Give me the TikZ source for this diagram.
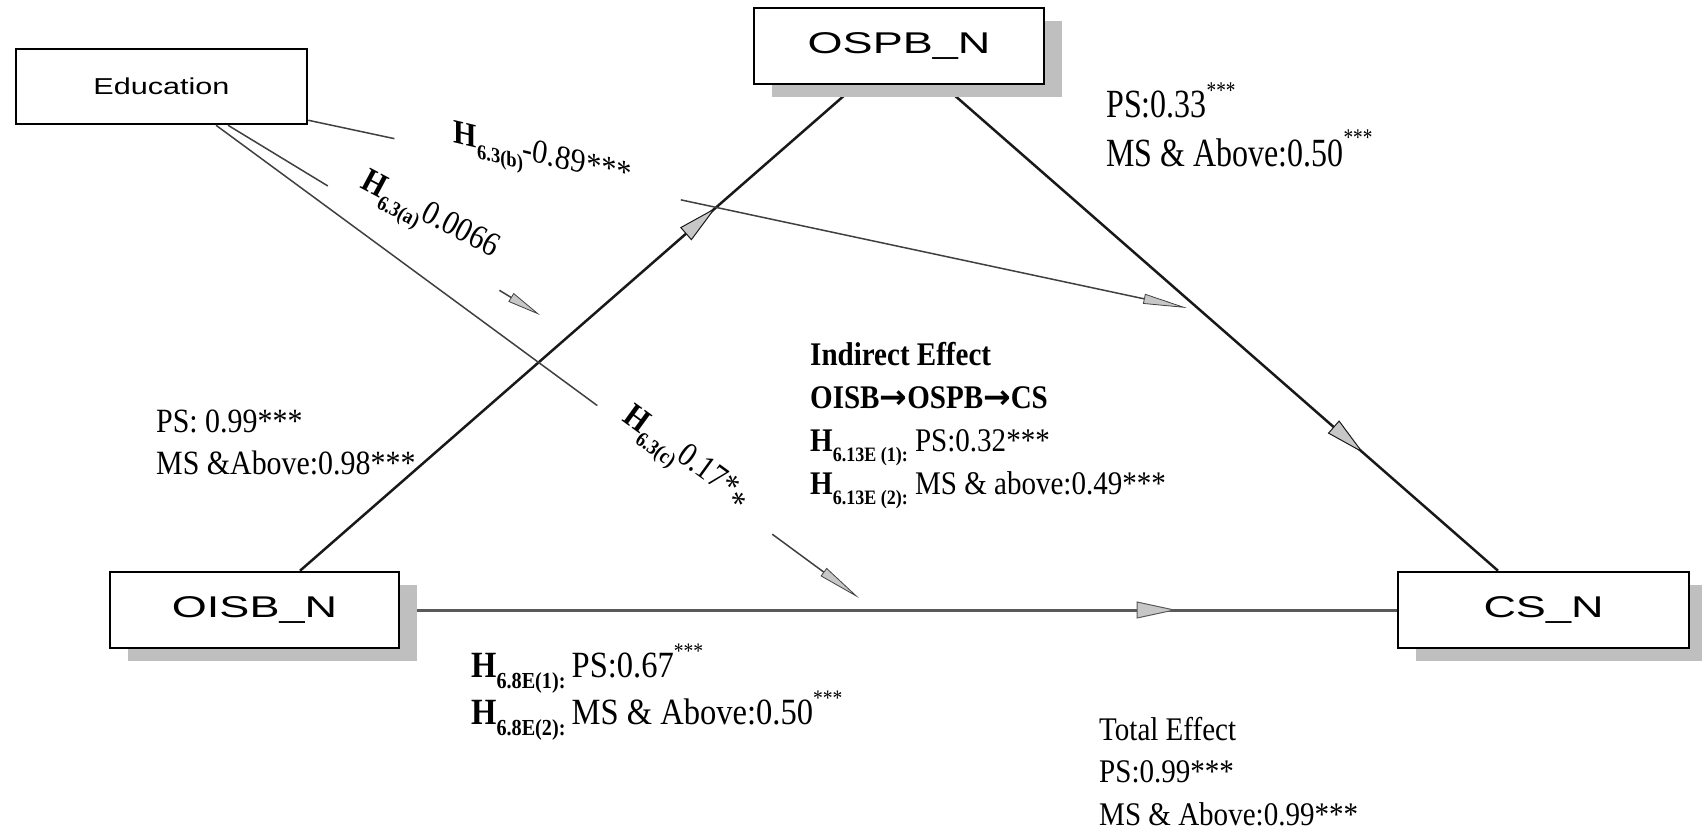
\documentclass[tikz,border=0pt]{standalone}
\usepackage{fontspec}
\usepackage{graphicx}
\setmainfont{Liberation Serif}
\newfontfamily\serA[FakeStretch=0.88]{Liberation Serif}
\newfontfamily\serB[FakeStretch=0.8]{Liberation Serif}
\newfontfamily\boxsans[FakeStretch=1.5]{Liberation Sans}
\newfontfamily\edusans[FakeStretch=1.33]{Liberation Sans}
\newfontfamily\arrowfont{DejaVu Sans}
\usetikzlibrary{arrows.meta,decorations.markings,calc,backgrounds,shadows}
\newcommand\Hs[1]{\textbf{H}\raisebox{-0.3em}{\scalebox{0.62}{\bfseries #1}}}
\newcommand\sups[1]{\raisebox{0.5em}{\scalebox{0.6}{#1}}}
\newcommand\blk[2]{\vtop{\baselineskip=#1\lineskiplimit=-1000pt\lineskip=0pt #2}}
\newcommand\barr{{\arrowfont\bfseries →}}
\tikzset{
  box/.style={draw, line width=2.5pt, fill=white, minimum width=290pt, minimum height=76pt,
    inner sep=0pt, font=\boxsans\fontsize{30}{36}\selectfont},
  shbox/.style={box, general shadow={fill=black!25, shadow xshift=18pt, shadow yshift=-13pt}},
  mainln/.style={line width=2.5pt, black!90},
  horizln/.style={line width=3pt, black!65},
  eduln/.style={line width=1.5pt, black!75},
  midarrow/.style={postaction={decorate}, decoration={markings, mark=at position #1 with
    {\arrow{Triangle[length=40pt,width=17pt,fill=black!22,line width=1pt]}}}},
  edutip/.style={-{Triangle[length=#1,width=10pt,fill=black!22,line width=0.8pt]}},
  lbl/.style={inner sep=0pt, font=\serA\fontsize{34}{40}\selectfont},
  txt/.style={anchor=base west, inner sep=0pt, font=\serA\fontsize{33}{42}\selectfont},
}
\begin{document}
\begin{tikzpicture}[x=1pt,y=1pt]
\useasboundingbox (0,0) rectangle (1702,-832);

% nodes
\node[box, minimum width=291pt, minimum height=75pt, font=\edusans\fontsize{23}{28}\selectfont] (edu) at (161.5,-86.5) {Education};
\node[shbox] (ospb) at (899,-46) {OSPB\_N};
\node[shbox, minimum width=289pt] (oisb) at (254.5,-610) {OISB\_N};
\node[shbox, minimum width=291pt] (cs) at (1543.5,-610) {CS\_N};

% free ends and start points
\coordinate (bStart) at ([yshift=5pt]edu.south east);
\coordinate (aStart) at ([xshift=66.5pt]edu.south);
\coordinate (cStart) at ([xshift=54.5pt]edu.south);
\coordinate (bEnd) at (1187,-308);
\coordinate (aEnd) at (540,-315);
\coordinate (cEnd) at (859,-598);

\begin{scope}[on background layer]
\draw[mainln, midarrow=0.748] ([xshift=45.5pt]oisb.north) -- ([xshift=-43pt]ospb.south);
\draw[mainln, midarrow=0.758] ([xshift=44pt]ospb.south) -- ([xshift=-45.5pt]cs.north);
\draw[horizln, midarrow=0.779] (oisb.east) -- (cs.west);
\end{scope}

% Education paths (with gaps for labels)
\draw[eduln] (bStart) -- ($(bStart)!0.098!(bEnd)$);
\draw[eduln, edutip=44pt] ($(bStart)!0.424!(bEnd)$) -- (bEnd);
\draw[eduln] (aStart) -- ($(aStart)!0.32!(aEnd)$);
\draw[eduln, edutip=34pt] ($(aStart)!0.87!(aEnd)$) -- (aEnd);
\draw[eduln] (cStart) -- ($(cStart)!0.593!(cEnd)$);
\draw[eduln, edutip=44pt] ($(cStart)!0.865!(cEnd)$) -- (cEnd);

% slanted / rotated labels
\begin{scope}[shift={(542,-160)}]
\node[lbl, yslant=-0.24, transform shape] (lb) at (0,0) {\Hs{6.3(b)}\textit{-0.89***}};
\end{scope}
\node[lbl, rotate=-28] (la) at (428,-219) {\Hs{6.3(a)}0.0066};
\node[lbl, rotate=-36] (lc) at (684,-461) {\Hs{6.3(c)}0.17*\raisebox{-0.3em}{*}};

% text blocks
\node[txt, font=\serB\fontsize{40}{48}\selectfont] (tr) at (1106,-118)
  {\blk{48pt}{\hbox{PS:0.33\sups{***}}\hbox{MS \& Above:0.50\sups{***}}}};
\node[txt, font=\serA\fontsize{34}{42}\selectfont] (tl) at (156,-432)
  {\blk{42pt}{\hbox{PS: 0.99***}\hbox{MS \&Above:0.98***}}};
\node[txt, font=\serA\fontsize{37}{48}\selectfont] (tb) at (471,-677)
  {\blk{47pt}{\hbox{\Hs{6.8E(1):}\,PS:0.67\sups{***}}\hbox{\Hs{6.8E(2):}\,MS \& Above:0.50\sups{***}}}};
\node[txt] (ind) at (810,-365)
  {\blk{43.3pt}{\hbox{\bfseries Indirect Effect}\hbox{\bfseries OISB\barr OSPB\barr CS}\hbox{\Hs{6.13E (1):} PS:0.32***}\hbox{\Hs{6.13E (2):} MS \& above:0.49***}}};
\node[txt] (tot) at (1099,-740)
  {\blk{42.5pt}{\hbox{Total Effect}\hbox{PS:0.99***}\hbox{MS \& Above:0.99***}}};
\end{tikzpicture}
\end{document}
